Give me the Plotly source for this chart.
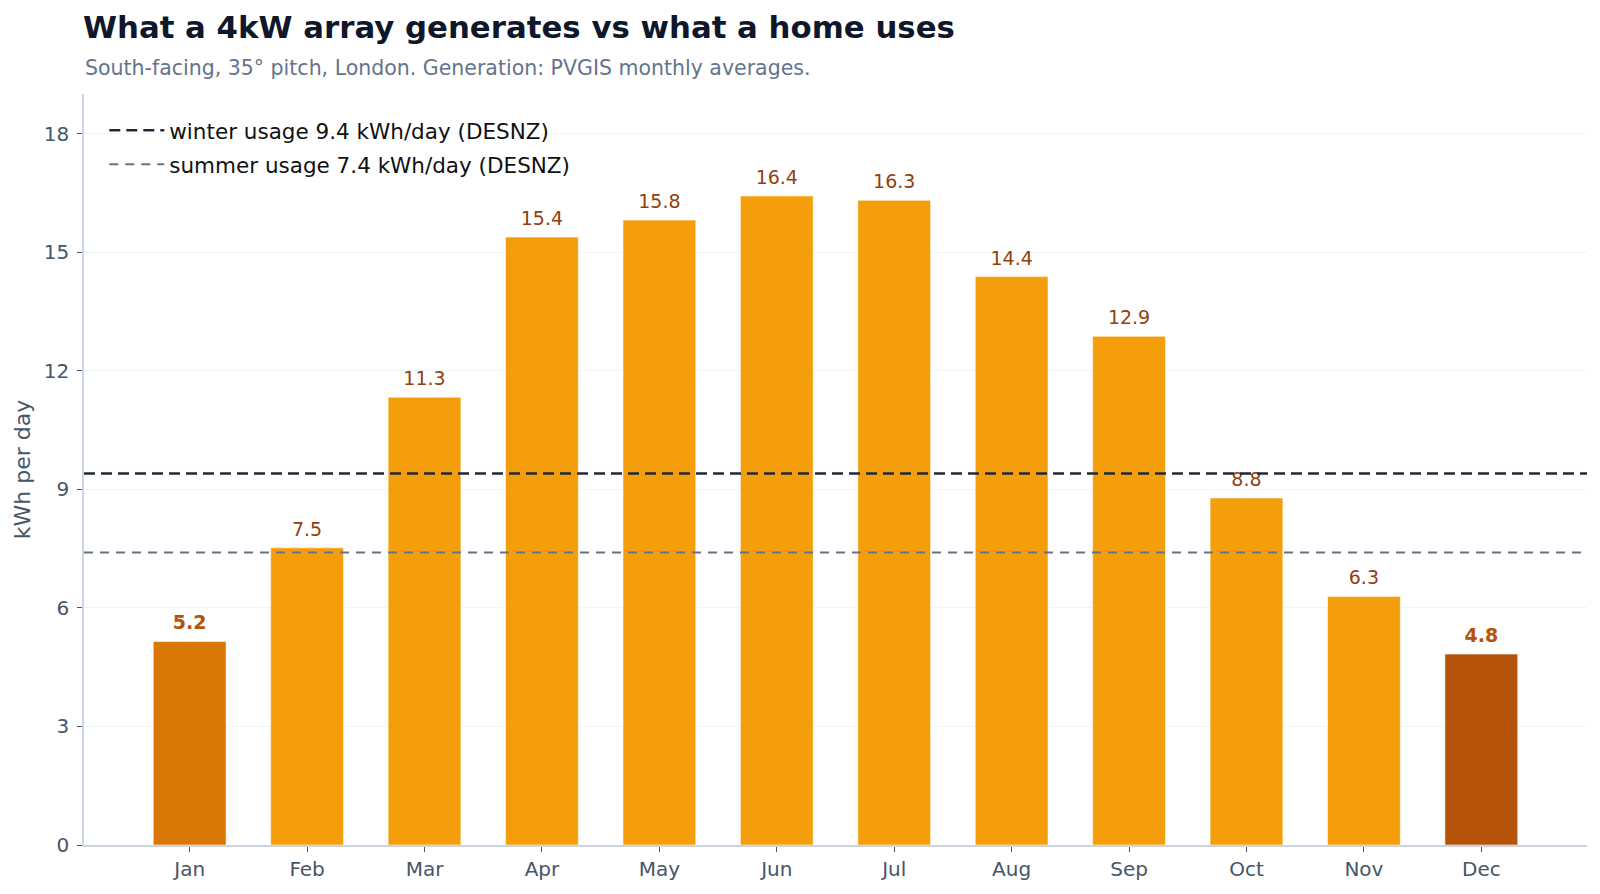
import plotly.graph_objects as go

months = ["Jan", "Feb", "Mar", "Apr", "May", "Jun", "Jul", "Aug", "Sep", "Oct", "Nov", "Dec"]
generation = [5.15, 7.52, 11.33, 15.38, 15.81, 16.42, 16.31, 14.38, 12.87, 8.78, 6.29, 4.83]
labels = ["5.2", "7.5", "11.3", "15.4", "15.8", "16.4", "16.3", "14.4", "12.9", "8.8", "6.3", "4.8"]
winter_usage = 9.4
summer_usage = 7.4
y_ticks = [0, 3, 6, 9, 12, 15, 18]

bar_colors = ["#d97706"] + ["#f59e0b"] * 10 + ["#b45309"]
text_colors = ["#b45309"] + ["#92400e"] * 10 + ["#b45309"]
text_labels = [f"<b>{l}</b>" if i in (0, 11) else l for i, l in enumerate(labels)]

fig = go.Figure()
fig.add_trace(go.Bar(
    x=months, y=generation, width=0.62,
    marker=dict(color=bar_colors, line=dict(color="rgba(255,255,255,0.55)", width=1)),
    showlegend=False, hoverinfo="skip",
))
fig.add_trace(go.Scatter(
    x=months, y=generation, mode="markers+text",
    marker=dict(size=10, color="rgba(0,0,0,0)"),
    text=text_labels, textposition="top center", cliponaxis=False,
    textfont=dict(family="DejaVu Sans", size=19, color=text_colors),
    showlegend=False, hoverinfo="skip",
))

for val, name, color, width, dash, grp in [
    (winter_usage, f"winter usage {winter_usage} kWh/day (DESNZ)", "#1e293b", 2.5, "11px,6px", "w"),
    (summer_usage, f"summer usage {summer_usage} kWh/day (DESNZ)", "#64748b", 2, "9px,7px", "s"),
]:
    fig.add_shape(type="line", xref="x domain", x0=0, x1=1, yref="y", y0=val, y1=val,
                  line=dict(color=color, width=width, dash=dash), layer="above")
    fig.add_trace(go.Scatter(x=[None], y=[None], mode="lines", name=name, legendgroup=grp,
                             line=dict(color=color, width=width, dash=dash)))

fig.update_layout(
    width=1600, height=894,
    paper_bgcolor="white", plot_bgcolor="white",
    margin=dict(l=84, r=13, t=94, b=49),
    font=dict(family="DejaVu Sans", color="#475569", size=20),
    title=dict(
        text="<b>What a 4kW array generates vs what a home uses</b>",
        x=83 / 1600, xref="container", xanchor="left",
        y=1 - 27.5 / 894, yref="container", yanchor="middle",
        font=dict(family="DejaVu Sans", size=30.8, color="#0f172a"),
    ),
    annotations=[dict(
        text="South-facing, 35° pitch, London. Generation: PVGIS monthly averages.",
        xref="paper", yref="paper", x=0, y=1 + (94 - 67.5) / 751,
        xanchor="left", yanchor="middle", showarrow=False, xshift=-1,
        font=dict(family="DejaVu Sans", size=20.5, color="#64748b"),
    )],
    legend=dict(x=0.0135, y=0.979, xanchor="left", yanchor="top", itemwidth=55,
                tracegroupgap=3,
                bgcolor="rgba(0,0,0,0)", font=dict(size=21.5, color="#111111")),
    xaxis=dict(range=[-0.9, 11.9], showline=True, linecolor="#cbd5e1", linewidth=1.5,
               ticks="outside", ticklen=5, tickcolor="#475569", showgrid=False,
               tickfont=dict(size=20, color="#475569")),
    yaxis=dict(range=[0, 19], tickvals=y_ticks, showline=True, linecolor="#cbd5e1", linewidth=1.5,
               ticks="outside", ticklen=5, tickcolor="#475569", gridcolor="#f1f5f9", gridwidth=1,
               zeroline=False, tickfont=dict(size=20, color="#475569"), ticklabelstandoff=4,
               title=dict(text="kWh per day", font=dict(size=22, color="#475569"), standoff=7)),
)

fig.write_html("out.html")
